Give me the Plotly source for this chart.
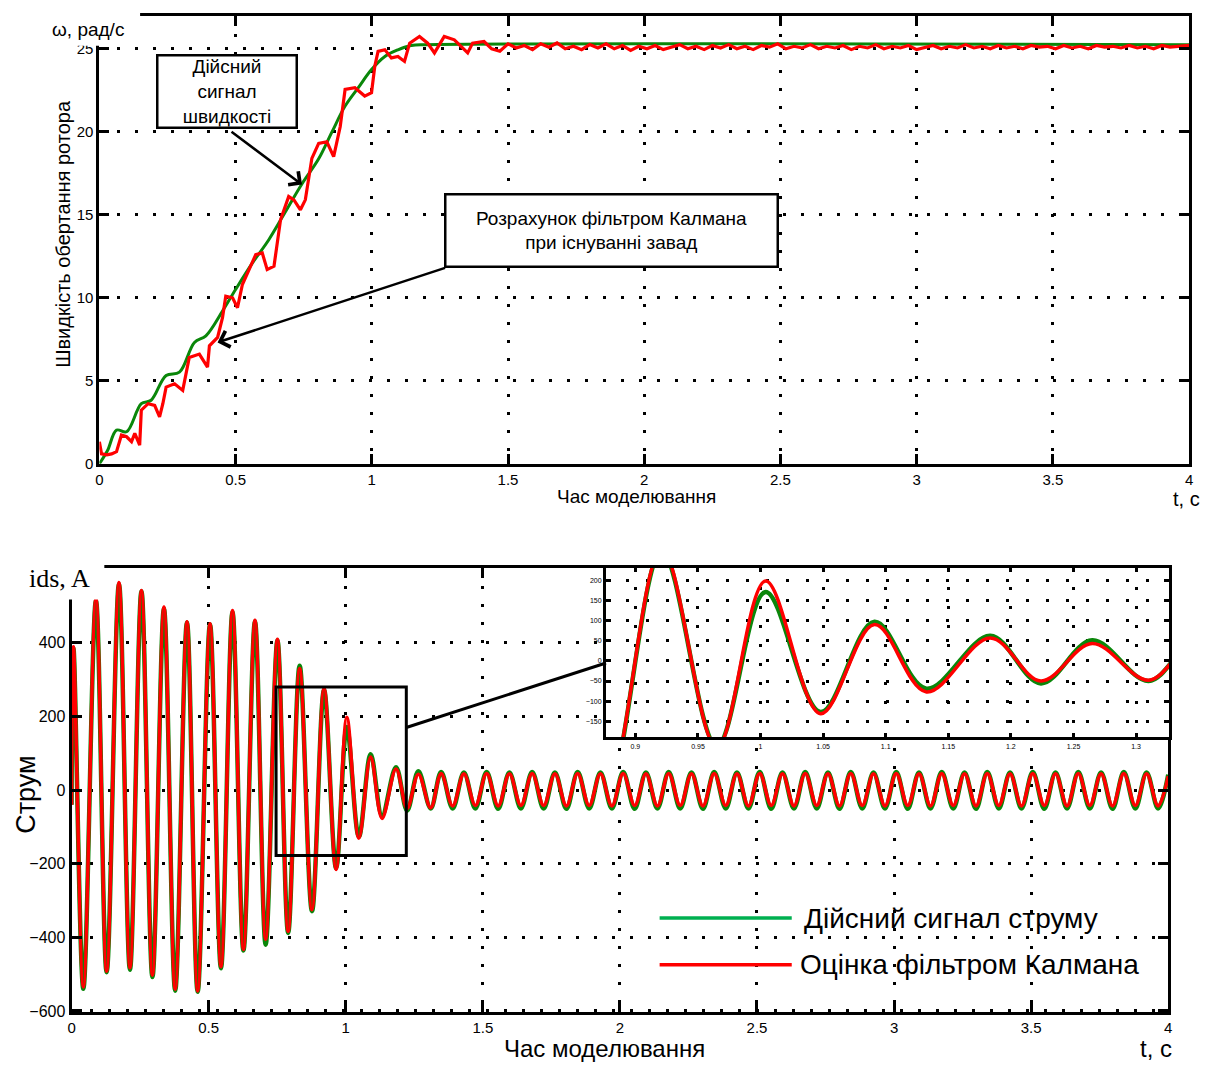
import plotly.graph_objects as go

W, H = 1206, 1071

# ---------------- data: rotor speed (top chart) ----------------
speed_true_t = [0, 0.03, 0.063, 0.1, 0.154, 0.19, 0.245, 0.294, 0.349, 0.391, 0.452, 0.5,
                0.562, 0.622, 0.683, 0.744, 0.805, 0.853, 0.902, 0.95, 0.999, 1.048, 1.096,
                1.145, 1.2, 4.0]
speed_true = [0, 0.8, 2.03, 1.93, 3.62, 3.83, 5.32, 5.52, 7.31, 7.71, 9.2, 10.5,
              12.1, 13.5, 15.18, 16.87, 18.37, 19.96, 21.55, 22.65, 23.75, 24.54, 24.94,
              25.2, 25.25, 25.25]

speed_kf_t = [0, 0.008, 0.027, 0.045, 0.063, 0.081, 0.1, 0.118, 0.13, 0.148, 0.154, 0.179,
              0.203, 0.221, 0.233, 0.245, 0.276, 0.306, 0.33, 0.367, 0.397, 0.404, 0.434,
              0.452, 0.464, 0.489, 0.507, 0.525, 0.574, 0.598, 0.616, 0.641, 0.665, 0.695,
              0.714, 0.738, 0.756, 0.78, 0.805, 0.835, 0.86, 0.884, 0.902, 0.938, 0.974,
              0.999, 1.011, 1.023, 1.048, 1.072, 1.096, 1.12, 1.139, 1.175, 1.205, 1.23,
              1.266, 1.303, 1.352, 1.37, 1.412,
              1.44, 1.47, 1.50, 1.53, 1.56, 1.59, 1.62, 1.65, 1.68, 1.71, 1.74, 1.77, 1.80,
              1.83, 1.86, 1.89, 1.92, 1.95, 1.98, 2.01, 2.04, 2.07, 2.10, 2.13, 2.16, 2.19,
              2.22, 2.25, 2.28, 2.31, 2.34, 2.37, 2.40, 2.43, 2.46, 2.49, 2.52, 2.55, 2.58,
              2.61, 2.64, 2.67, 2.70, 2.73, 2.76, 2.79, 2.82, 2.85, 2.88, 2.91, 2.94, 2.97,
              3.00, 3.03, 3.06, 3.09, 3.12, 3.15, 3.18, 3.21, 3.24, 3.27, 3.30, 3.33, 3.36,
              3.39, 3.42, 3.45, 3.48, 3.51, 3.54, 3.57, 3.60, 3.63, 3.66, 3.69, 3.72, 3.75,
              3.78, 3.81, 3.84, 3.87, 3.90, 3.93, 3.96, 4.0]
speed_kf = [1.33, 0.6, 0.54, 0.6, 0.73, 1.73, 1.63, 1.33, 1.83, 1.13, 3.23, 3.62,
            3.52, 2.83, 3.62, 4.62, 4.82, 4.42, 6.41, 6.61, 5.82, 7.11, 7.61,
            8.8, 10.1, 10.0, 9.4, 10.8, 12.6, 12.7, 11.7, 11.9, 14.7, 16.1,
            15.9, 15.3, 15.9, 18.4, 19.3, 19.4, 18.5, 20.3, 22.55, 22.65, 22.15,
            22.35, 23.95, 24.84, 24.94, 24.45, 24.54, 24.24, 25.34, 25.74, 25.34, 24.75,
            25.74, 25.54, 24.75, 25.34, 25.44,
            25.0, 24.85, 25.3, 25.05, 25.2, 24.95, 25.3, 25.1, 25.35, 25.0, 25.15, 24.95, 25.25,
            25.05, 25.3, 25.0, 25.2, 24.9, 25.15, 25.0, 25.2, 24.95, 25.1, 25.25, 25.0, 25.15,
            24.95, 25.2, 25.05, 25.25, 25.0, 25.15, 24.95, 25.2, 25.1, 25.3, 25.0, 25.15, 25.05,
            25.25, 25.0, 25.15, 25.05, 25.2, 24.95, 25.15, 25.05, 25.25, 25.0, 25.15, 25.05, 25.2,
            24.95, 25.1, 25.2, 25.0, 25.15, 25.05, 25.25, 25.05, 25.15, 25.0, 25.2, 25.05, 25.15,
            25.0, 25.2, 25.1, 25.15, 25.0, 25.2, 25.05, 25.15, 25.0, 25.2, 25.1, 25.15, 25.05,
            25.2, 25.05, 25.15, 25.0, 25.2, 25.1, 25.15, 25.2]

# ---------------- data: stator current ids (bottom chart) ----------------
cur_trans_t = [0, 0.007, 0.043, 0.089, 0.128, 0.173, 0.213, 0.255, 0.295, 0.337, 0.378,
               0.421, 0.460, 0.505, 0.545, 0.587, 0.627, 0.669, 0.708, 0.751, 0.790,
               0.832, 0.877, 0.921, 0.965, 1.004, 1.048, 1.091, 1.1325, 1.1835, 1.224,
               1.265, 1.31]
cur_true_trans = [-40, 385, -540, 515, -495, 560, -488, 540, -508, 493, -545,
                  455, -548, 450, -484, 484, -436, 458, -420, 406, -388,
                  338, -329, 272, -212, 171, -127, 97, -69, 62, -56,
                  51, -50]
cur_kf_trans = [-40, 389, -535, 520, -492, 564, -483, 542, -503, 497, -541,
                457, -546, 452, -480, 488, -433, 461, -405, 410, -384,
                330, -325, 278, -216, 198, -131, 90, -77, 57, -50,
                43, -48]

cur_ss_t = [1.348, 1.39, 1.431, 1.473, 1.514, 1.556, 1.597, 1.639,
            1.680, 1.722, 1.763, 1.805, 1.846, 1.888, 1.929, 1.971,
            2.012, 2.054, 2.095, 2.137, 2.178, 2.22, 2.261, 2.303,
            2.344, 2.386, 2.427, 2.469, 2.510, 2.552, 2.593, 2.635,
            2.676, 2.718, 2.759, 2.801, 2.842, 2.884, 2.925, 2.967,
            3.008, 3.05, 3.091, 3.133, 3.174, 3.216, 3.257, 3.299,
            3.340, 3.382, 3.423, 3.465, 3.506, 3.548, 3.589, 3.631,
            3.672, 3.714, 3.755, 3.797, 3.838, 3.88, 3.921, 3.963, 4.0]
cur_true_ss = [49, -50, 48, -50, 49, -51, 48, -50,
               49, -50, 48, -51, 49, -50, 48, -50,
               49, -51, 48, -50, 49, -50, 48, -51,
               49, -50, 48, -50, 49, -51, 48, -50,
               49, -50, 48, -51, 49, -50, 48, -50,
               49, -51, 48, -50, 49, -50, 48, -51,
               49, -50, 48, -50, 49, -51, 48, -50,
               49, -50, 48, -51, 49, -50, 48, -50, 42]
cur_kf_ss = [45, -43, 44, -42, 45, -43, 44, -42,
             45, -42, 44, -43, 45, -42, 44, -43,
             45, -42, 44, -43, 45, -42, 44, -43,
             45, -42, 44, -43, 45, -42, 44, -43,
             45, -42, 44, -43, 45, -42, 44, -43,
             45, -42, 44, -43, 45, -42, 44, -43,
             45, -42, 44, -43, 45, -42, 44, -43,
             45, -42, 44, -43, 45, -42, 44, -43, 38]

cur_t = cur_trans_t + cur_ss_t
cur_true = cur_true_trans + cur_true_ss
cur_kf = cur_kf_trans + cur_kf_ss

# ---------------- ticks ----------------
time_ticks = [0, 0.5, 1, 1.5, 2, 2.5, 3, 3.5, 4]
time_labels = ["0", "0.5", "1", "1.5", "2", "2.5", "3", "3.5", "4"]
speed_ticks = [0, 5, 10, 15, 20, 25]
cur_ticks = [-600, -400, -200, 0, 200, 400]
inset_xticks = [0.9, 0.95, 1, 1.05, 1.1, 1.15, 1.2, 1.25, 1.3]
inset_xlabels = ["0.9", "0.95", "1", "1.05", "1.1", "1.15", "1.2", "1.25", "1.3"]
inset_yticks = [-150, -100, -50, 0, 50, 100, 150, 200]

GREEN = "#0a870a"
LEG_GREEN = "#00b050"
RED = "#ff0000"
SANS = "Liberation Sans, Arial, sans-serif"
SERIF = "Liberation Serif, Times New Roman, serif"


def px(x):
    return x / W


def py(y):
    return 1 - y / H


fig = go.Figure()

# top chart
fig.add_trace(go.Scatter(x=speed_true_t, y=speed_true, mode="lines",
                         line=dict(color=GREEN, width=3, shape="spline"),
                         xaxis="x", yaxis="y", showlegend=False, hoverinfo="skip"))
fig.add_trace(go.Scatter(x=speed_kf_t, y=speed_kf, mode="lines",
                         line=dict(color=RED, width=3.2),
                         xaxis="x", yaxis="y", showlegend=False, hoverinfo="skip"))
# bottom chart
fig.add_trace(go.Scatter(x=cur_t, y=cur_true, mode="lines",
                         line=dict(color=GREEN, width=4.5, shape="spline"),
                         xaxis="x2", yaxis="y2", showlegend=False, hoverinfo="skip"))
fig.add_trace(go.Scatter(x=cur_t, y=cur_kf, mode="lines",
                         line=dict(color=RED, width=3.5, shape="spline"),
                         xaxis="x2", yaxis="y2", showlegend=False, hoverinfo="skip"))
# inset
fig.add_trace(go.Scatter(x=cur_t, y=cur_true, mode="lines",
                         line=dict(color=GREEN, width=4.5, shape="spline"),
                         xaxis="x3", yaxis="y3", showlegend=False, hoverinfo="skip"))
fig.add_trace(go.Scatter(x=cur_t, y=cur_kf, mode="lines",
                         line=dict(color=RED, width=3.5, shape="spline"),
                         xaxis="x3", yaxis="y3", showlegend=False, hoverinfo="skip"))

axis_common = dict(showline=True, linecolor="black", linewidth=3, mirror="ticks",
                   ticks="inside", tickcolor="black", tickwidth=3,
                   showgrid=True, gridcolor="black", gridwidth=2.5, griddash="3px,15px",
                   zeroline=False, color="black")

fig.update_layout(
    width=W, height=H,
    margin=dict(l=0, r=0, t=0, b=0),
    paper_bgcolor="white", plot_bgcolor="white",
    font=dict(family=SANS, color="black"),
    xaxis=dict(domain=[px(96), px(1193)], range=[0, 4], anchor="y",
               tickvals=time_ticks, ticktext=time_labels, ticklen=10,
               tickfont=dict(size=15), **axis_common),
    yaxis=dict(domain=[py(467.3), py(15.7)], range=[0, 27], anchor="x",
               tickvals=speed_ticks, ticklen=10, tickfont=dict(size=15), **axis_common),
    xaxis2=dict(domain=[px(68), px(1172)], range=[0, 4], anchor="y2",
                tickvals=time_ticks, ticktext=time_labels, ticklen=10,
                tickfont=dict(size=15), **axis_common),
    yaxis2=dict(domain=[py(1020), py(572)], range=[-604, 604], anchor="x2",
                tickvals=cur_ticks, ticklen=10, tickfont=dict(size=16), **axis_common),
    xaxis3=dict(domain=[px(606), px(1173)], range=[0.8765, 1.3265], anchor="y3",
                tickvals=inset_xticks, ticktext=inset_xlabels, ticklen=4,
                tickfont=dict(size=7), **{**axis_common, "griddash": "3px,16px"}),
    yaxis3=dict(domain=[py(743), py(572)], range=[-190, 231], anchor="x3",
                tickvals=inset_yticks, ticklen=5, tickfont=dict(size=7),
                **{**axis_common, "griddash": "3px,17px"}),
)

shapes = [
    # opaque background of the inset (drawn under the inset's own grid and data)
    dict(type="rect", xref="x3", yref="y3", x0=0.8765, x1=1.3265, y0=-190, y1=231,
         fillcolor="white", line=dict(width=0), layer="below"),
    # white patches behind the unit labels
    dict(type="rect", xref="paper", yref="paper", x0=0, x1=px(137), y0=py(46), y1=1,
         fillcolor="white", line=dict(width=0), layer="above"),
    dict(type="rect", xref="paper", yref="paper", x0=0, x1=px(101), y0=py(604), y1=py(556),
         fillcolor="white", line=dict(width=0), layer="above"),
    # zoom box and connector
    dict(type="rect", xref="x2", yref="y2", x0=0.746, x1=1.221, y0=-178, y1=280,
         line=dict(color="black", width=3), layer="above"),
    dict(type="line", xref="paper", yref="paper", x0=px(405), y0=py(733), x1=px(606), y1=py(668),
         line=dict(color="black", width=3), layer="above"),
    # legend samples
    dict(type="line", xref="paper", yref="paper", x0=px(660), y0=py(925), x1=px(793), y1=py(925),
         line=dict(color=LEG_GREEN, width=3.5), layer="above"),
    dict(type="line", xref="paper", yref="paper", x0=px(660), y0=py(972), x1=px(793), y1=py(972),
         line=dict(color=RED, width=3.5), layer="above"),
]

ann = []


def label(text, x, y, size, xanchor="center", yanchor="middle", angle=0, family=SANS):
    ann.append(dict(text=text, x=px(x), y=py(y), xref="paper", yref="paper",
                    xanchor=xanchor, yanchor=yanchor, showarrow=False, textangle=angle,
                    font=dict(size=size, family=family, color="black")))


label("ω, рад/с", 46, 30, 19, xanchor="left")
label("ids, A", 23, 583, 26, xanchor="left", family=SERIF)
label("Час моделювання", 637, 500, 19)
label("t, c", 1190, 503, 20)
label("Швидкість обертання ротора", 60, 236, 20, angle=-90)
label("Час моделювання", 605, 1072, 24, yanchor="bottom")
label("t, c", 1160, 1072, 24, yanchor="bottom")
label("Струм", 22, 801, 27, angle=-90)
label("Дійсний сигнал струму", 803, 925, 28, xanchor="left")
label("Оцінка фільтром Калмана", 799, 972, 28, xanchor="left")

# callout boxes
ann.append(dict(text="Дійсний<br>сигнал<br>швидкості", x=px(224), y=py(92.5), xref="paper", yref="paper",
                xanchor="center", yanchor="middle", showarrow=False, width=137, height=70,
                bgcolor="white", bordercolor="black", borderwidth=2.5, borderpad=0,
                font=dict(size=19, family=SANS, color="black")))
ann.append(dict(text="Розрахунок фільтром Калмана<br>при існуванні завад", x=px(611.5), y=py(232),
                xref="paper", yref="paper", xanchor="center", yanchor="middle", showarrow=False,
                width=330, height=70, bgcolor="white", bordercolor="black", borderwidth=2.5,
                borderpad=0, font=dict(size=19, family=SANS, color="black")))
# arrows
ann.append(dict(text="", x=px(300), y=py(186), xref="paper", yref="paper", showarrow=True,
                ax=228 - 300, ay=132 - 186, arrowhead=4, arrowsize=1.3, arrowwidth=2.5,
                arrowcolor="black"))
ann.append(dict(text="", x=px(215), y=py(345), xref="paper", yref="paper", showarrow=True,
                ax=444 - 215, ay=270 - 345, arrowhead=4, arrowsize=1.3, arrowwidth=2.5,
                arrowcolor="black"))

fig.update_layout(shapes=shapes, annotations=ann)

fig.write_html("out.html", config={"displayModeBar": False},
               post_script="document.body.style.margin='0';document.body.style.overflow='hidden';")
